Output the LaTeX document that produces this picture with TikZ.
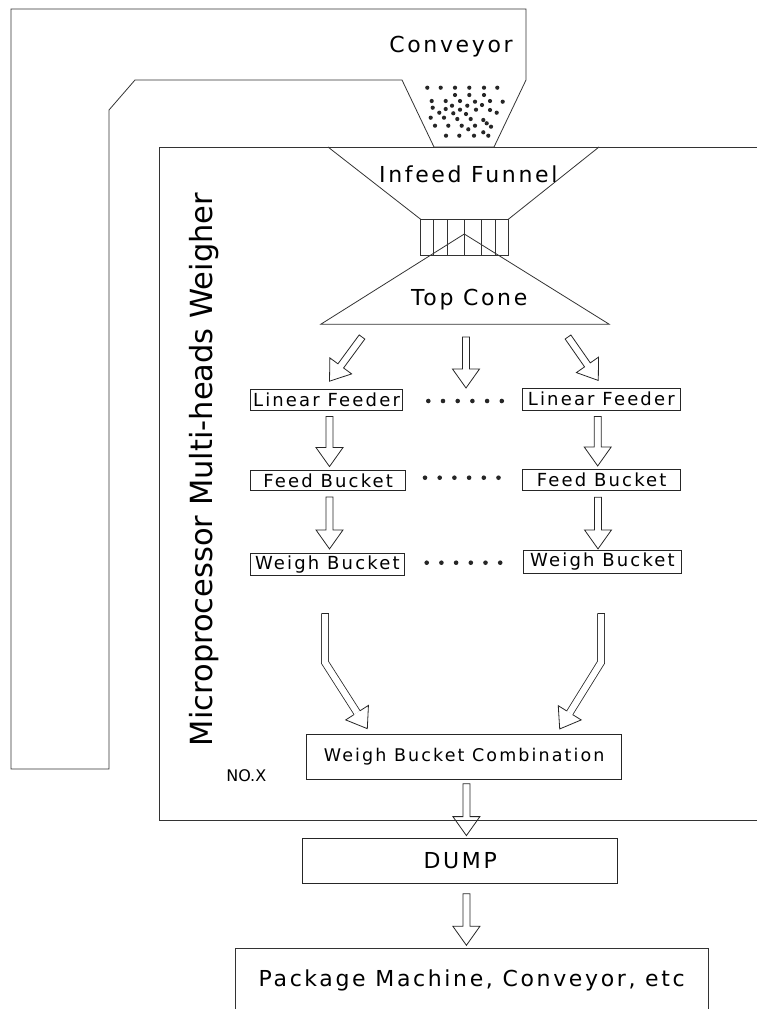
\documentclass[tikz,border=0pt]{standalone}
\usepackage{fontspec}
\setmainfont{DejaVu Sans}
\newfontfamily\spacedfont[LetterSpace=12]{DejaVu Sans}
\usetikzlibrary{calc, positioning}

% straight hollow arrow: tail, tip
\newcommand{\flowarrow}[2]{%
  \path (#1) coordinate (fa-a) (#2) coordinate (fa-b);
  \path ($(fa-b)!19pt!(fa-a)$) coordinate (fa-c);
  \draw[hollow] ($(fa-a)!3.5pt!90:(fa-b)$) -- ($(fa-c)!3.5pt!90:(fa-b)$)
    -- ($(fa-c)!13.5pt!90:(fa-b)$) -- (fa-b) -- ($(fa-c)!13.5pt!-90:(fa-b)$)
    -- ($(fa-c)!3.5pt!-90:(fa-b)$) -- ($(fa-a)!3.5pt!-90:(fa-b)$) -- cycle;
}
% bent hollow arrow: tail, bend, tip
\newcommand{\bentarrow}[3]{%
  \path (#1) coordinate (ba-a) (#2) coordinate (ba-k) (#3) coordinate (ba-b);
  \path ($(ba-b)!19pt!(ba-k)$) coordinate (ba-c);
  \draw[hollow shaft] (ba-a) -- (ba-k) -- (ba-c);
  \draw[hollow] ($(ba-a)!3.5pt!90:(ba-k)$) -- ($(ba-a)!3.5pt!-90:(ba-k)$);
  \filldraw[hollow, fill=white] ($(ba-c)!3.5pt!90:(ba-b)$) -- ($(ba-c)!13.5pt!90:(ba-b)$)
    -- (ba-b) -- ($(ba-c)!13.5pt!-90:(ba-b)$) -- ($(ba-c)!3.5pt!-90:(ba-b)$);
}

\begin{document}
\begin{tikzpicture}[
    x=1pt, y=-1pt,
    line width=0.8pt,
    every node/.style={font=\spacedfont\fontsize{18}{20}\selectfont},
    unit/.style={draw=black!85, inner sep=0pt},
    bigtext/.style={font=\spacedfont\fontsize{22}{24}\selectfont},
    frame/.style={draw=black!80, line join=miter},
    hollow/.style={draw=black!85, line join=miter},
    hollow shaft/.style={draw=black!85, double=white, double distance=6.2pt, line join=miter},
]
\useasboundingbox (0,0) rectangle (757,1009);

% Conveyor and hopper
\draw[frame] (11,9) -- (526,9) -- (526,80) -- (494,147) -- (434,147) -- (402,80)
    -- (135,80) -- (109,110) -- (109,769) -- (11,769) -- cycle;
\node[bigtext, anchor=base] (conv) at (451,52) {Conveyor};
\foreach \x/\y in {427.3/87.7, 440.7/87.7, 455/87.7, 469.3/87.7, 484/87.7, 497.3/87.7,
    455/95, 469.3/95, 484/95,
    431.7/101, 445.7/101, 460/101, 475/101.7, 490/101, 502.7/101.7,
    452/105.7, 467.3/105.7, 482/105, 432.7/107.7, 445.7/109, 460/109.7, 476/109.7,
    490/110, 496.7/112.7, 439.3/112.7, 453.3/113.3, 466/114,
    430.7/117.7, 444/117.7, 457.3/119, 470.7/119, 483.3/120,
    435/125.7, 448.3/125.7, 461.7/125.7, 475/125.7, 486.7/123.3, 491/126.7,
    468.3/129.3, 483.3/132.3, 446/135.7, 459.3/135.7, 474/135.7, 488.3/135.7}
  \fill[black!85] (\x,\y) circle (2.1);

% Weigher housing
\draw[frame] (757,147) -- (159,147) -- (159,820) -- (757,820);
\node[rotate=90, anchor=base, font=\fontsize{30.5}{32}\selectfont] (title) at (212.7,469.5)
    {Microprocessor Multi-heads Weigher};
\node[font=\fontsize{16}{18}\selectfont, anchor=base] (nox) at (246.3,781.7) {NO.X};

% Infeed funnel, vibrator grid and top cone
\draw[frame] (328,147) -- (420.7,219.3);
\draw[frame] (599,147) -- (508.3,219.3);
\draw[frame] (420.7,219.3) rectangle (508.3,255);
\foreach \x in {433.3, 447.3, 464.3, 481, 495}
  \draw[frame] (\x,219.3) -- (\x,255);
\draw[frame] (320.7,324.3) -- (464.3,234) -- (609.3,324.3) -- cycle;
\node[bigtext, anchor=base] (funnel) at (468.3,182.7) {Infeed Funnel};
\node[bigtext, anchor=base] (cone) at (469.2,305.7) {Top Cone};

% Heads (first and last)
\node[unit, minimum width=152, minimum height=21] (lf1) at (326.5,399.6) {Linear Feeder};
\node[unit, minimum width=157.3, minimum height=21.7] (lf2) at (601.3,399.2) {Linear Feeder};
\node[unit, minimum width=155, minimum height=20.7] (fb1) at (328.2,480.3) {Feed Bucket};
\node[unit, minimum width=158, minimum height=20.7] (fb2) at (601.7,479.7) {Feed Bucket};
\node[unit, minimum width=153.3, minimum height=21.7] (wb1) at (327.3,564.2) {Weigh Bucket};
\node[unit, minimum width=158.4, minimum height=22.6] (wb2) at (602.5,562) {Weigh Bucket};
\foreach \y/\xs in {401/428.3, 477.7/425, 562.7/426.7}
  \foreach \i in {0,...,5}
    \fill[black!85] (\xs+\i*14.7,\y) circle (2.3);

\node[unit, minimum width=315, minimum height=45.3, font=\spacedfont\fontsize{17.5}{19}\selectfont]
    (comb) at (464.2,756.7) {Weigh Bucket Combination};
\node[unit, bigtext, minimum width=315, minimum height=45] (dump) at (460.2,860.8) {DUMP};
\node[bigtext, inner sep=0pt, minimum width=472, minimum height=64] (pack) at (471.7,980.3)
    {Package Machine, Conveyor, etc};
\draw[frame] (pack.south west) -- (pack.north west) -- (pack.north east) -- (pack.south east);

% Flow arrows
\coordinate (feed-l) at (362,337);
\coordinate (feed-m) at (466,337);
\coordinate (feed-r) at (568,337);
\coordinate (gap) at (466,388);
\flowarrow{feed-l}{$(lf1.north)+(3,-7.5)$}
\flowarrow{feed-m}{gap}
\flowarrow{feed-r}{$(lf2.north)+(-3,-7.5)$}
\flowarrow{$(lf1.south)+(3,6)$}{$(fb1.north)+(1.3,-3)$}
\flowarrow{$(lf2.south)+(-3.6,6)$}{$(fb2.north)+(-4,-3)$}
\flowarrow{$(fb1.south)+(1.3,6)$}{$(wb1.north)+(2.2,-4)$}
\flowarrow{$(fb2.south)+(-3.7,6.7)$}{$(wb2.north)+(-4.5,-1.4)$}
\bentarrow{$(wb1.south)+(-2.3,38)$}{$(wb1.south)+(-2.3,87)$}{$(comb.north west)+(61,-5)$}
\bentarrow{$(wb2.south)+(-1.5,39.7)$}{$(wb2.south)+(-1.5,88.7)$}{$(comb.north east)+(-62.4,-4.7)$}
\flowarrow{$(comb.south)+(2.2,4)$}{$(dump.north)+(6.2,-2.3)$}
\flowarrow{$(dump.south)+(6.2,10)$}{$(pack.north)+(-5.3,-2.6)$}

\end{tikzpicture}
\end{document}
